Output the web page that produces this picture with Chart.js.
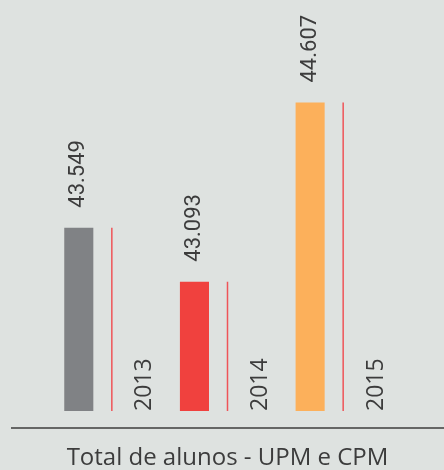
<!DOCTYPE html>
<html>
<head>
<meta charset="utf-8">
<script src="https://cdn.jsdelivr.net/npm/chart.js@4/dist/chart.umd.min.js"></script>
<style>
  html, body { margin: 0; padding: 0; background: #dee2e0; }
  #wrap { width: 444px; height: 470px; position: relative; }
</style>
</head>
<body>
<div id="wrap"><canvas id="alunos"></canvas></div>
<script>
// dados
const years = ['2013', '2014', '2015'];
const totals = [43549, 43093, 44607];
const valueLabels = ['43.549', '43.093', '44.607'];
const barColors = ['#808285', '#f0413e', '#fcb05b'];
const titleText = 'Total de alunos - UPM e CPM';

// rótulos rotacionados + linha de base
const labelsPlugin = {
    id: 'labelsPlugin',
    afterDatasetsDraw(chart) {
        const ctx = chart.ctx;
        const area = chart.chartArea;
        const bars = chart.getDatasetMeta(0).data;
        const slots = chart.getDatasetMeta(2).data;

        ctx.save();
        ctx.fillStyle = '#3c3c3c';
        ctx.textAlign = 'left';
        ctx.textBaseline = 'middle';

        bars.forEach((bar, i) => {
            ctx.save();
            ctx.translate(bar.x, bar.y - 20);
            ctx.rotate(-Math.PI / 2);
            ctx.font = '22px Roboto';
            ctx.fillText(valueLabels[i], 0, 0);
            ctx.restore();
        });

        slots.forEach((slot, i) => {
            ctx.save();
            ctx.translate(slot.x, area.bottom);
            ctx.rotate(-Math.PI / 2);
            ctx.font = '23px "Open Sans"';
            ctx.fillText(years[i], 0, 0);
            ctx.restore();
        });

        // linha horizontal
        ctx.strokeStyle = '#3d3d3d';
        ctx.lineWidth = 1.5;
        ctx.beginPath();
        ctx.moveTo(11, 428);
        ctx.lineTo(chart.width, 428);
        ctx.stroke();
        ctx.restore();
    }
};

const ctx = document.getElementById('alunos').getContext('2d');

const data = {
    labels: years,
    datasets: [
        {
            data: totals,
            backgroundColor: barColors,
            categoryPercentage: 0.857,
            barPercentage: 0.88,
        },
        {
            data: totals,
            backgroundColor: '#ef5458',
            categoryPercentage: 0.857,
            barPercentage: 1,
            maxBarThickness: 1.5,
        },
        {
            data: totals,
            backgroundColor: 'rgba(0,0,0,0)',
            categoryPercentage: 0.857,
            barPercentage: 0.88,
        },
    ],
};

const config = {
    type: 'bar',
    data: data,
    options: {
        responsive: true,
        maintainAspectRatio: false,
        animation: false,
        events: [],
        layout: {
            padding: { top: 56, bottom: 0, left: 54, right: 43 },
        },
        scales: {
            x: { display: false },
            y: { display: false, min: 42000, max: 45000 },
        },
        plugins: {
            legend: { display: false },
            tooltip: { enabled: false },
            title: {
                display: true,
                position: 'bottom',
                text: titleText,
                color: '#3c3c3c',
                font: { family: '"Open Sans"', size: 24, weight: 'normal', lineHeight: 1 },
                padding: { top: 35, bottom: 0 },
            },
        },
    },
    plugins: [labelsPlugin],
};

const chart = new Chart(ctx, config);
</script>
</body>
</html>
